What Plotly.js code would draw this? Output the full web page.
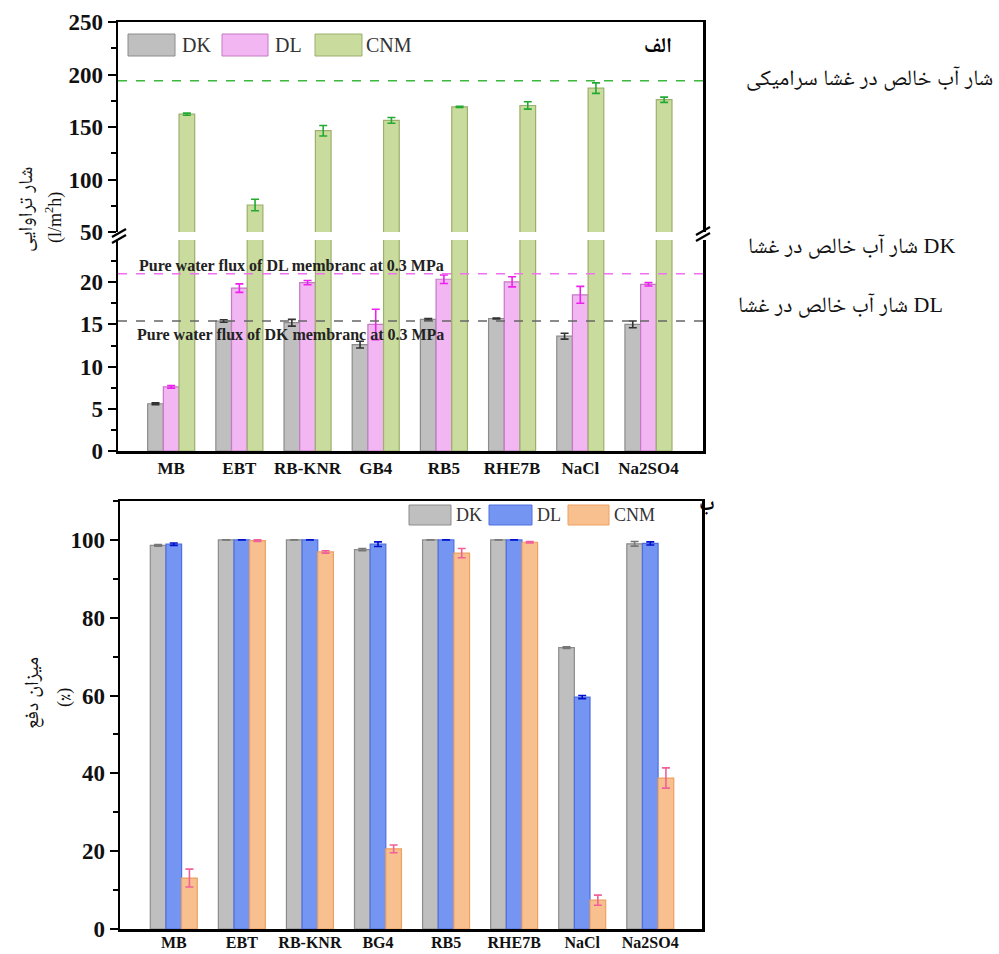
<!DOCTYPE html>
<html>
<head>
<meta charset="utf-8">
<script src="https://cdn.plot.ly/plotly-3.0.1.min.js"></script>
<style>
  html, body { margin: 0; padding: 0; background: #fff; }
  #chart { width: 999px; height: 954px; }
</style>
</head>
<body>
<div id="chart"></div>
<script>
// (الف) permeate flux, l/m2h
const fluxCategories = ['MB', 'EBT', 'RB-KNR', 'GB4', 'RB5', 'RHE7B', 'NaCl', 'Na2SO4'];
const fluxDK = [5.6, 15.4, 15.2, 12.6, 15.6, 15.7, 13.6, 15.0];
const fluxDKErr = [0.1, 0.15, 0.4, 0.4, 0.1, 0.05, 0.35, 0.4];
const fluxDL = [7.6, 19.3, 19.95, 15.0, 20.35, 20.05, 18.5, 19.75];
const fluxDLErr = [0.15, 0.5, 0.25, 1.8, 0.5, 0.6, 1.0, 0.2];
const fluxCNM = [162.2, 75.7, 146.5, 156.3, 169.2, 170.5, 187, 176];
const fluxCNMErr = [1, 5.5, 5, 2.7, 0.5, 3.5, 5, 2.5];

// pure water flux reference levels
const pureFluxCeramic = 194;
const pureFluxDL = 21;
const pureFluxDK = 15.4;

// (ب) rejection, %
const rejCategories = ['MB', 'EBT', 'RB-KNR', 'BG4', 'RB5', 'RHE7B', 'NaCl', 'Na2SO4'];
const rejDK = [98.6, 100, 100, 97.5, 100, 100, 72.3, 99.0];
const rejDKErr = [0.2, 0, 0, 0.3, 0, 0, 0.2, 0.6];
const rejDL = [98.9, 100, 100, 98.9, 100, 100, 59.6, 99.1];
const rejDLErr = [0.3, 0, 0, 0.6, 0, 0, 0.4, 0.4];
const rejCNM = [13.1, 99.8, 96.9, 20.6, 96.6, 99.4, 7.4, 38.8];
const rejCNMErr = [2.3, 0.2, 0.3, 1.0, 1.2, 0.2, 1.3, 2.6];

const W = 999, H = 954;
const px = v => v / W;
const py = v => 1 - v / H;

const SERIF = 'Liberation Serif, Times New Roman, DejaVu Serif, serif';
const FA = 'Liberation Serif, Noto Naskh Arabic, Noto Sans Arabic, DejaVu Sans, serif';

const colors = {
  dk: { fill: '#bfbfbf', line: '#8c8c8c', err: '#333333', errB: '#777777' },
  dl: { fill: '#f2b6f2', line: '#c47ac4', err: '#ee22ee' },
  cnm: { fill: '#c9dc9e', line: '#9caf6c', err: '#22aa33' },
  dlB: { fill: '#7496f2', line: '#4f6fe0', err: '#0010cc' },
  cnmB: { fill: '#f9c08f', line: '#eea060', err: '#f0609a' }
};

function barTrace(name, cats, vals, errs, c, errColor, xa, ya) {
  return {
    type: 'bar', name: name, x: cats, y: vals,
    xaxis: xa, yaxis: ya,
    marker: { color: c.fill, line: { color: c.line, width: 1.2 } },
    error_y: { type: 'data', array: errs, visible: true, color: errColor, thickness: 1.6, width: 4 },
    cliponaxis: true, showlegend: false
  };
}

const traces = [
  // lower segment of the broken flux axis
  barTrace('DK', fluxCategories, fluxDK, fluxDKErr, colors.dk, colors.dk.err, 'x', 'y'),
  barTrace('DL', fluxCategories, fluxDL, fluxDLErr, colors.dl, colors.dl.err, 'x', 'y'),
  barTrace('CNM', fluxCategories, fluxCNM, fluxCNMErr, colors.cnm, colors.cnm.err, 'x', 'y'),
  // upper segment of the broken flux axis
  barTrace('DK', fluxCategories, fluxDK, fluxDKErr, colors.dk, colors.dk.err, 'x2', 'y2'),
  barTrace('DL', fluxCategories, fluxDL, fluxDLErr, colors.dl, colors.dl.err, 'x2', 'y2'),
  barTrace('CNM', fluxCategories, fluxCNM, fluxCNMErr, colors.cnm, colors.cnm.err, 'x2', 'y2'),
  // rejection
  barTrace('DK', rejCategories, rejDK, rejDKErr, colors.dk, colors.dk.errB, 'x3', 'y3'),
  barTrace('DL', rejCategories, rejDL, rejDLErr, colors.dlB, colors.dlB.err, 'x3', 'y3'),
  barTrace('CNM', rejCategories, rejCNM, rejCNMErr, colors.cnmB, colors.cnmB.err, 'x3', 'y3')
];

const tickFontY = { family: SERIF, size: 23, color: '#111', weight: 'bold' };
const tickFontX = { family: SERIF, size: 17, color: '#111', weight: 'bold' };
const tickFontXB = { family: SERIF, size: 16, color: '#111', weight: 'bold' };
const AX = { showline: true, linecolor: '#000', linewidth: 2.5, showgrid: false, zeroline: false, fixedrange: true };

const topDomX = [px(118), px(703)];
const botDomX = [px(120), px(702)];

function yAxis(domain, anchor, range, major, minor) {
  return Object.assign({}, AX, {
    domain: domain, anchor: anchor, range: range, mirror: true,
    tickmode: 'array', tickvals: major, ticks: 'outside', ticklen: 8, tickwidth: 2, tickcolor: '#000',
    tickfont: tickFontY,
    minor: { tickmode: 'array', tickvals: minor, ticks: 'outside', ticklen: 5, tickwidth: 2, tickcolor: '#000', showgrid: false }
  });
}

const layout = {
  width: W, height: H,
  margin: { l: 0, r: 0, t: 0, b: 0 },
  paper_bgcolor: '#fff', plot_bgcolor: '#fff',
  showlegend: false,
  barmode: 'group', bargap: 0.31, bargroupgap: 0,
  xaxis: Object.assign({}, AX, {
    domain: topDomX, anchor: 'y', type: 'category', range: [-0.78, 7.8],
    ticks: '', tickfont: tickFontX
  }),
  xaxis2: Object.assign({}, AX, {
    domain: topDomX, anchor: 'y2', type: 'category', range: [-0.78, 7.8],
    side: 'top', showticklabels: false, ticks: ''
  }),
  xaxis3: Object.assign({}, AX, {
    domain: botDomX, anchor: 'y3', type: 'category', range: [-0.79, 7.76],
    mirror: true, ticks: '', tickfont: tickFontXB, ticklabelstandoff: -3
  }),
  yaxis: yAxis([py(451), py(240)], 'x', [0, 25], [0, 5, 10, 15, 20], [2.5, 7.5, 12.5, 17.5, 22.5]),
  yaxis2: yAxis([py(232), py(22)], 'x2', [50, 250], [50, 100, 150, 200, 250], [75, 125, 175, 225]),
  yaxis3: yAxis([py(929), py(501)], 'x3', [0, 110], [0, 20, 40, 60, 80, 100], [10, 30, 50, 70, 90, 110]),
  shapes: [],
  annotations: []
};

// pure water flux reference lines
layout.shapes.push(
  { type: 'line', xref: 'x2 domain', yref: 'y2', x0: 0, x1: 1, y0: pureFluxCeramic, y1: pureFluxCeramic,
    line: { color: '#3cb83c', width: 1.6, dash: 'dash' } },
  { type: 'line', xref: 'x domain', yref: 'y', x0: 0, x1: 1, y0: pureFluxDL, y1: pureFluxDL,
    line: { color: '#f070f0', width: 1.4, dash: 'dash' } },
  { type: 'line', xref: 'x domain', yref: 'y', x0: 0, x1: 1, y0: pureFluxDK, y1: pureFluxDK,
    line: { color: '#666666', width: 1.6, dash: 'dash' } }
);

// axis break marks
function breakMarks(xc, yc) {
  return [
    { type: 'line', xref: 'paper', yref: 'paper', x0: px(xc - 7), y0: py(yc + 1), x1: px(xc + 7), y1: py(yc - 7),
      line: { color: '#000', width: 2.2 } },
    { type: 'line', xref: 'paper', yref: 'paper', x0: px(xc - 7), y0: py(yc + 7), x1: px(xc + 7), y1: py(yc - 1),
      line: { color: '#000', width: 2.2 } }
  ];
}
layout.shapes.push(...breakMarks(119, 236), ...breakMarks(703, 234));

// legend swatches
function swatch(x0, x1, y0, y1, c) {
  return { type: 'rect', xref: 'paper', yref: 'paper', x0: px(x0), x1: px(x1), y0: py(y1), y1: py(y0),
    fillcolor: c.fill, line: { color: c.line, width: 1 } };
}
function legendText(x, y, t, size) {
  return { xref: 'paper', yref: 'paper', x: px(x), y: py(y), xanchor: 'left', yanchor: 'middle',
    text: t, showarrow: false, font: { family: SERIF, size: size, color: '#333' } };
}
layout.shapes.push(
  swatch(128, 175, 34, 56, colors.dk),
  swatch(222, 268, 34, 56, colors.dl),
  swatch(315, 362, 34, 56, colors.cnm),
  swatch(409, 451, 505, 525, colors.dk),
  swatch(489, 532, 505, 525, colors.dlB),
  swatch(568, 609, 505, 525, colors.cnmB)
);
layout.annotations.push(
  legendText(180, 45, 'DK', 20), legendText(273, 45, 'DL', 20), legendText(364, 45, 'CNM', 20),
  legendText(454, 515, 'DK', 18), legendText(535, 515, 'DL', 18), legendText(612, 515, 'CNM', 18)
);

// panel letters
layout.annotations.push(
  { xref: 'paper', yref: 'paper', x: px(674), y: py(45), xanchor: 'right', yanchor: 'middle', showarrow: false,
    text: 'الف', font: { family: FA, size: 21, color: '#000', weight: 'bold' } },
  { xref: 'paper', yref: 'paper', x: px(697), y: py(503), xanchor: 'left', yanchor: 'middle', showarrow: false,
    text: 'ب', font: { family: FA, size: 20, color: '#000', weight: 'bold' } }
);

// reference line captions
const capFont = { family: SERIF, size: 16, color: '#222', weight: 'bold' };
layout.annotations.push(
  { xref: 'paper', yref: 'paper', x: px(137), y: py(265), xanchor: 'left', yanchor: 'middle', showarrow: false,
    text: 'Pure water flux of DL membranc at 0.3 MPa', font: capFont },
  { xref: 'paper', yref: 'paper', x: px(135), y: py(334), xanchor: 'left', yanchor: 'middle', showarrow: false,
    text: 'Pure water flux of DK membranc at 0.3 MPa', font: capFont }
);

// side notes
const noteFont = { family: FA, size: 22, color: '#111' };
layout.annotations.push(
  { xref: 'paper', yref: 'paper', x: px(995), y: py(78), xanchor: 'right', yanchor: 'middle', showarrow: false,
    text: 'شار آب خالص در غشا سرامیکی', font: noteFont },
  { xref: 'paper', yref: 'paper', x: px(957), y: py(246), xanchor: 'right', yanchor: 'middle', showarrow: false,
    text: 'شار آب خالص در غشا DK', font: noteFont },
  { xref: 'paper', yref: 'paper', x: px(945), y: py(305), xanchor: 'right', yanchor: 'middle', showarrow: false,
    text: 'شار آب خالص در غشا DL', font: noteFont }
);

// axis titles
const titleFont = { family: FA, size: 20, color: '#111' };
layout.annotations.push(
  { xref: 'paper', yref: 'paper', x: px(26), y: py(210), textangle: -90, showarrow: false,
    xanchor: 'center', yanchor: 'middle', text: 'شار تراوایی', font: titleFont },
  { xref: 'paper', yref: 'paper', x: px(54), y: py(218), textangle: -90, showarrow: false,
    xanchor: 'center', yanchor: 'middle', text: '(l/m<sup>2</sup>h)', font: { family: SERIF, size: 18, color: '#111' } },
  { xref: 'paper', yref: 'paper', x: px(32), y: py(693), textangle: -90, showarrow: false,
    xanchor: 'center', yanchor: 'middle', text: 'میزان دفع', font: titleFont },
  { xref: 'paper', yref: 'paper', x: px(64), y: py(698), textangle: -90, showarrow: false,
    xanchor: 'center', yanchor: 'middle', text: '(٪)', font: { family: FA, size: 18, color: '#111' } }
);

Plotly.newPlot('chart', traces, layout, { staticPlot: true, displayModeBar: false });
</script>
</body>
</html>
